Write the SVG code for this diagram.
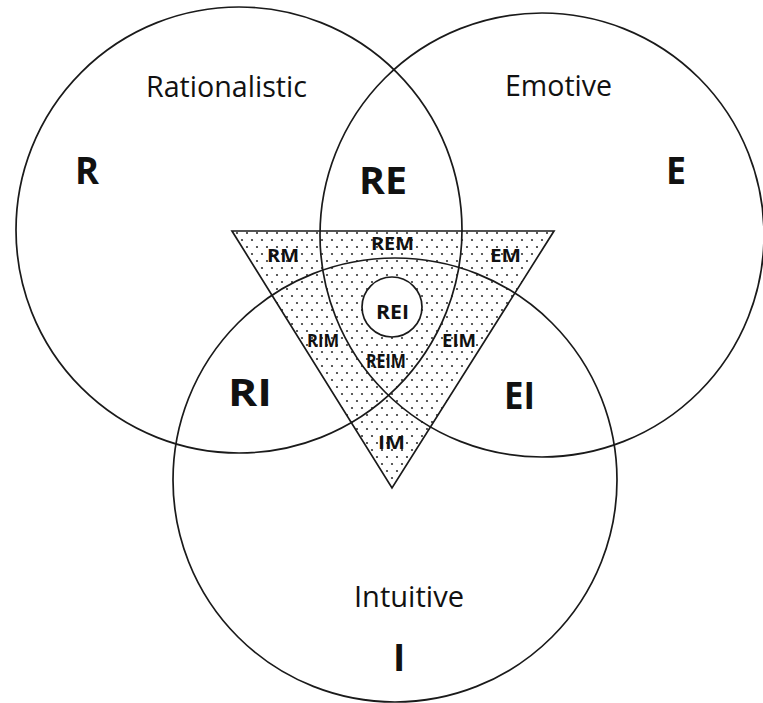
<svg xmlns="http://www.w3.org/2000/svg" width="763" height="703" viewBox="0 0 763 703">
  <defs>
    <pattern id="dots" x="0" y="0" width="10" height="14" patternUnits="userSpaceOnUse">
      <circle cx="2" cy="2" r="1.1" fill="#333"/>
      <circle cx="7" cy="9" r="1.1" fill="#333"/>
    </pattern>
    <style>
      .ln { fill: none; stroke: #1a1a1a; stroke-width: 1.7; }
      .big { font-family: "Open Sans", "Liberation Sans", sans-serif; font-weight: bold; font-size: 37px; fill: #111; }
      .name { font-family: "Open Sans", "Liberation Sans", sans-serif; font-size: 29px; fill: #111; }
      .sm { font-family: "Open Sans", "Liberation Sans", sans-serif; font-weight: bold; font-size: 18px; fill: #111; }
      .md { font-family: "Open Sans", "Liberation Sans", sans-serif; font-weight: bold; font-size: 20px; fill: #111; }
    </style>
  </defs>
  <rect x="0" y="0" width="763" height="703" fill="#fff"/>

  <g id="M">
    <polygon points="232,231 554,231 392,488" fill="url(#dots)"/>
  </g>

  <g id="R">
    <circle class="ln" cx="239" cy="230" r="223"/>
    <text class="name" x="146" y="97" textLength="161" lengthAdjust="spacingAndGlyphs">Rationalistic</text>
    <text class="big" x="75" y="184" textLength="24" lengthAdjust="spacingAndGlyphs">R</text>
  </g>

  <g id="E">
    <circle class="ln" cx="542" cy="235" r="222"/>
    <text class="name" x="505" y="96" textLength="107" lengthAdjust="spacingAndGlyphs">Emotive</text>
    <text class="big" x="666" y="184" textLength="20" lengthAdjust="spacingAndGlyphs">E</text>
  </g>

  <g id="I">
    <circle class="ln" cx="395" cy="480" r="222"/>
    <text class="name" x="354" y="607" textLength="110" lengthAdjust="spacingAndGlyphs">Intuitive</text>
    <text class="big" x="393" y="671">I</text>
  </g>

  <g id="overlaps">
    <text class="big" x="359" y="194" textLength="48" lengthAdjust="spacingAndGlyphs">RE</text>
    <text class="big" x="228" y="406" textLength="44" lengthAdjust="spacingAndGlyphs">RI</text>
    <text class="big" x="504" y="409" textLength="31" lengthAdjust="spacingAndGlyphs">EI</text>
  </g>

  <g id="M-outline">
    <polygon class="ln" points="232,231 554,231 392,488"/>
    <text class="sm" x="267" y="262" textLength="32" lengthAdjust="spacingAndGlyphs">RM</text>
    <text class="sm" x="371" y="250" textLength="43" lengthAdjust="spacingAndGlyphs">REM</text>
    <text class="sm" x="490" y="262" textLength="31" lengthAdjust="spacingAndGlyphs">EM</text>
    <text class="sm" x="307" y="347" textLength="32" lengthAdjust="spacingAndGlyphs">RIM</text>
    <text class="md" x="366" y="368" textLength="40" lengthAdjust="spacingAndGlyphs">REIM</text>
    <text class="sm" x="442" y="347" textLength="34" lengthAdjust="spacingAndGlyphs">EIM</text>
    <text class="sm" x="378" y="449" textLength="27" lengthAdjust="spacingAndGlyphs">IM</text>
  </g>

  <g id="REI">
    <circle cx="392" cy="307" r="30" fill="#fff" stroke="#1a1a1a" stroke-width="1.7"/>
    <text class="md" x="376" y="319" textLength="33" lengthAdjust="spacingAndGlyphs">REI</text>
  </g>
</svg>
